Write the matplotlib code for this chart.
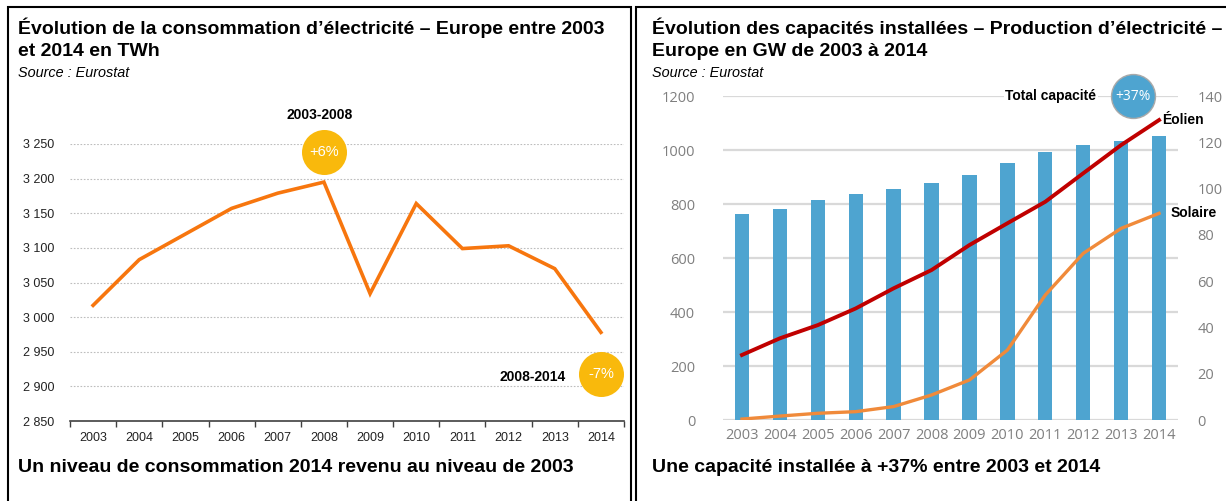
import matplotlib
matplotlib.use("Agg")
import matplotlib.pyplot as plt
from matplotlib.patches import Rectangle
from matplotlib.ticker import FuncFormatter, MultipleLocator

# données
years = ["2003", "2004", "2005", "2006", "2007", "2008",
         "2009", "2010", "2011", "2012", "2013", "2014"]
consommation = [3017, 3083, 3120, 3157, 3179, 3195,
                3034, 3164, 3099, 3103, 3070, 2978]
capacite_totale = [763, 782, 816, 836, 854, 879,
                   907, 951, 991, 1020, 1033, 1052]
eolien = [28.1, 35.3, 41.0, 48.2, 56.9, 64.8,
          75.6, 85.0, 94.3, 106.6, 118.8, 129.6]
solaire = [0.4, 1.7, 2.9, 3.6, 5.8, 10.8,
           17.3, 30.2, 54.0, 72.0, 82.8, 89.3]

W, H = 1226, 501
fig = plt.figure(figsize=(W / 100, H / 100), dpi=100)
fig.patch.set_facecolor("white")

def px(x0, y0, x1, y1):
    # rectangle en pixels (haut-gauche) -> coordonnées figure
    return [x0 / W, 1 - y1 / H, (x1 - x0) / W, (y1 - y0) / H]

def ftext(x, y, s, **kw):
    fig.text(x / W, 1 - y / H, s, **kw)

FONT = "Liberation Sans"
ORANGE = "#F7760E"
GOLD = "#F9B90C"
BLUE = "#4EA4D0"
idx = list(range(len(years)))

# cadres
fig.add_artist(Rectangle((8 / W, -0.05), (631 - 8) / W, 1.05 - 7 / H,
                         transform=fig.transFigure, fill=False, lw=1.5, ec="black"))
fig.add_artist(Rectangle((636 / W, -0.05), 0.6, 1.05 - 7 / H,
                         transform=fig.transFigure, fill=False, lw=1.5, ec="black"))

# ---------- graphique de gauche ----------
ftext(18, 28, "Évolution de la consommation d’électricité – Europe entre 2003",
      family=FONT, weight="bold", size=14, va="center")
ftext(18, 52, "et 2014 en TWh", family=FONT, weight="bold", size=14, va="center")
ftext(18, 73, "Source : Eurostat", family=FONT, style="italic", size=10.4, va="center")
ftext(18, 468, "Un niveau de consommation 2014 revenu au niveau de 2003",
      family=FONT, weight="bold", size=14, va="center")

ax1 = fig.add_axes(px(70, 144, 624, 421))
ax1.plot(idx, consommation, color=ORANGE, lw=2.6, solid_joinstyle="miter", zorder=3)
ax1.set_xlim(-0.5, 11.5)
ax1.set_ylim(2850, 3250)
ax1.yaxis.set_major_locator(MultipleLocator(50))
ax1.yaxis.set_major_formatter(FuncFormatter(lambda v, p: f"{int(v):,}".replace(",", " ")))
ax1.grid(axis="y", color="#bdbdbd", ls=(0, (1.5, 1.5)), lw=0.8)
for s in ["top", "right", "left"]:
    ax1.spines[s].set_visible(False)
ax1.spines["bottom"].set_color("#404040")
ax1.spines["bottom"].set_linewidth(1.2)
ax1.set_xticks(idx)
ax1.set_xticklabels(years)
ax1.set_xticks([i - 0.5 for i in range(13)], minor=True)
ax1.tick_params(axis="x", which="major", length=0, pad=8, labelsize=9)
ax1.tick_params(axis="x", which="minor", length=4, color="#404040", width=1)
ax1.tick_params(axis="y", length=0, pad=11, labelsize=9)
for lab in ax1.get_xticklabels() + ax1.get_yticklabels():
    lab.set_family(FONT)
    lab.set_color("#222222")

tr1 = ax1.get_xaxis_transform()
ax1.scatter([5], [0.971], s=1050, color=GOLD, transform=tr1, clip_on=False, zorder=4, lw=0)
ax1.text(5, 0.971, "+6%", transform=tr1, ha="center", va="center",
         color="white", size=10.5, family=FONT, zorder=5)
ax1.scatter([11], [0.17], s=1050, color=GOLD, transform=tr1, clip_on=False, zorder=4, lw=0)
ax1.text(11, 0.17, "-7%", transform=tr1, ha="center", va="center",
         color="white", size=10.5, family=FONT, zorder=5)
ax1.text(4.91, 1.105, "2003-2008", transform=tr1, ha="center", va="center",
         weight="bold", size=10, family=FONT)
ax1.text(10.24, 0.159, "2008-2014", transform=tr1, ha="right", va="center",
         weight="bold", size=10, family=FONT)

# ---------- graphique de droite ----------
ftext(652, 28, "Évolution des capacités installées – Production d’électricité –",
      family=FONT, weight="bold", size=14, va="center")
ftext(652, 52, "Europe en GW de 2003 à 2014", family=FONT, weight="bold", size=14, va="center")
ftext(652, 73, "Source : Eurostat", family=FONT, style="italic", size=10.4, va="center")
ftext(652, 468, "Une capacité installée à +37% entre 2003 et 2014",
      family=FONT, weight="bold", size=14, va="center")

ax2 = fig.add_axes(px(723, 96, 1178, 420))
ax2.bar(idx, capacite_totale, width=0.38, color=BLUE, zorder=2)
ax2.set_xlim(-0.5, 11.5)
ax2.set_ylim(0, 1200)
ax2.yaxis.set_major_locator(MultipleLocator(200))
ax2.grid(axis="y", color="#d9d9d9", lw=1.6, zorder=0)
ax2.set_axisbelow(True)
for s in ax2.spines.values():
    s.set_visible(False)
ax2.set_xticks(idx)
ax2.set_xticklabels(years)
ax2.tick_params(length=0, labelsize=10.5, labelcolor="#7f7f7f")
ax2.tick_params(axis="y", pad=20)
ax2.tick_params(axis="x", pad=6)
for lab in ax2.get_xticklabels() + ax2.get_yticklabels():
    lab.set_family("Open Sans")

ax3 = ax2.twinx()
ax3.plot(idx, eolien, color="#C00000", lw=2.8, zorder=3)
ax3.plot(idx, solaire, color="#F08A3A", lw=2.4, zorder=3)
ax3.set_ylim(0, 140)
ax3.yaxis.set_major_locator(MultipleLocator(20))
for s in ax3.spines.values():
    s.set_visible(False)
ax3.tick_params(length=0, labelsize=10.5, labelcolor="#7f7f7f", pad=14)
for lab in ax3.get_yticklabels():
    lab.set_family("Open Sans")

ax3.text(11.08, eolien[-1], "Éolien", ha="left", va="center",
         weight="bold", size=10, family=FONT)
ax3.text(11.3, solaire[-1], "Solaire", ha="left", va="center",
         weight="bold", size=10, family=FONT)

tr2 = ax2.get_xaxis_transform()
ax2.scatter([10.3], [1.0], s=1000, color=BLUE, edgecolor="#a9a9a9", lw=1,
            transform=tr2, clip_on=False, zorder=4)
ax2.text(10.3, 1.0, "+37%", transform=tr2, ha="center", va="center",
         color="white", size=10, family="Open Sans", zorder=5)
ax2.text(9.35, 1.0, "Total capacité", transform=tr2, ha="right", va="center",
         weight="bold", size=10, family=FONT, zorder=5,
         bbox=dict(fc="white", ec="none", pad=1))

fig.savefig("out.png", dpi=100)
